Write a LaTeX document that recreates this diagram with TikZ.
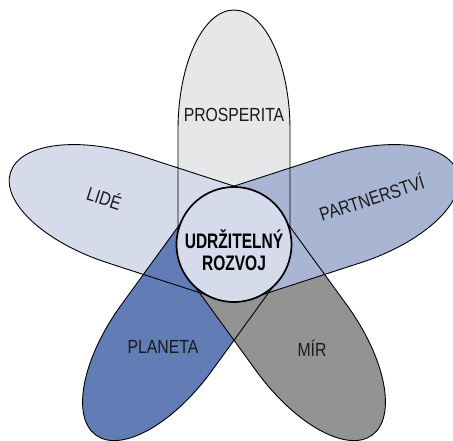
\documentclass[tikz,border=0pt]{standalone}
\usepackage{fontspec}
\setmainfont{Liberation Sans}
\newfontfamily\lblfont{Liberation Sans}[FakeStretch=0.83]
\newfontfamily\hubfont{Liberation Sans}[FakeStretch=0.74]
\definecolor{cProsp}{HTML}{E6E7E9}
\definecolor{cLide}{HTML}{D5DBEA}
\definecolor{cPart}{HTML}{A9B6D3}
\definecolor{cPlan}{HTML}{627CB5}
\definecolor{cMir}{HTML}{939393}
\definecolor{cText}{HTML}{1A1A1A}
\tikzset{
  petalshape/.style={insert path={(0,56) -- (115,56) arc[start angle=90,end angle=-90,x radius=120pt,y radius=56pt] -- (0,-56) arc[start angle=270,end angle=90,radius=56pt] -- cycle}},
  petaledge/.style={draw=black, line width=0.9pt},
  lbl/.style={font=\lblfont\fontsize{19}{22}\selectfont, text=cText, inner sep=0pt, anchor=base},
  hubtxt/.style={font=\hubfont\bfseries\fontsize{21}{23}\selectfont, text=black, inner sep=0pt, anchor=base}
}
\begin{document}
\begin{tikzpicture}[x=1pt,y=1pt]
\useasboundingbox (0,0) rectangle (453,-440);
\clip (0,0) rectangle (453,-440);
% fills, bottom to top
\foreach \ang/\col in {90/cProsp,162/cLide,234/cPlan,306/cMir,18/cPart}{
  \begin{scope}[shift={(234,-245)},rotate=\ang]
    \fill[\col, petalshape];
  \end{scope}
}
% outlines
\foreach \ang in {90,162,234,306,18}{
  \begin{scope}[shift={(234,-245)},rotate=\ang]
    \path[petaledge, petalshape];
  \end{scope}
}
\node[draw=black, line width=1.7pt, circle, fill=cLide, minimum size=115pt, inner sep=0pt] (hub) at (234,-244.5) {};
\node[hubtxt] (hubA) at (234,-248) {UDRŽITELNÝ};
\node[hubtxt] (hubB) at (234,-270.7) {ROZVOJ};
\node[lbl] (prosp) at (234,-121) {PROSPERITA};
\node[lbl, rotate=-18] (lide) at (102,-205) {LIDÉ};
\node[lbl, rotate=18] (part) at (374,-205) {PARTNERSTVÍ};
\node[lbl] (plan) at (163,-353) {PLANETA};
\node[lbl] (mir) at (312,-356) {MÍR};
\end{tikzpicture}
\end{document}
